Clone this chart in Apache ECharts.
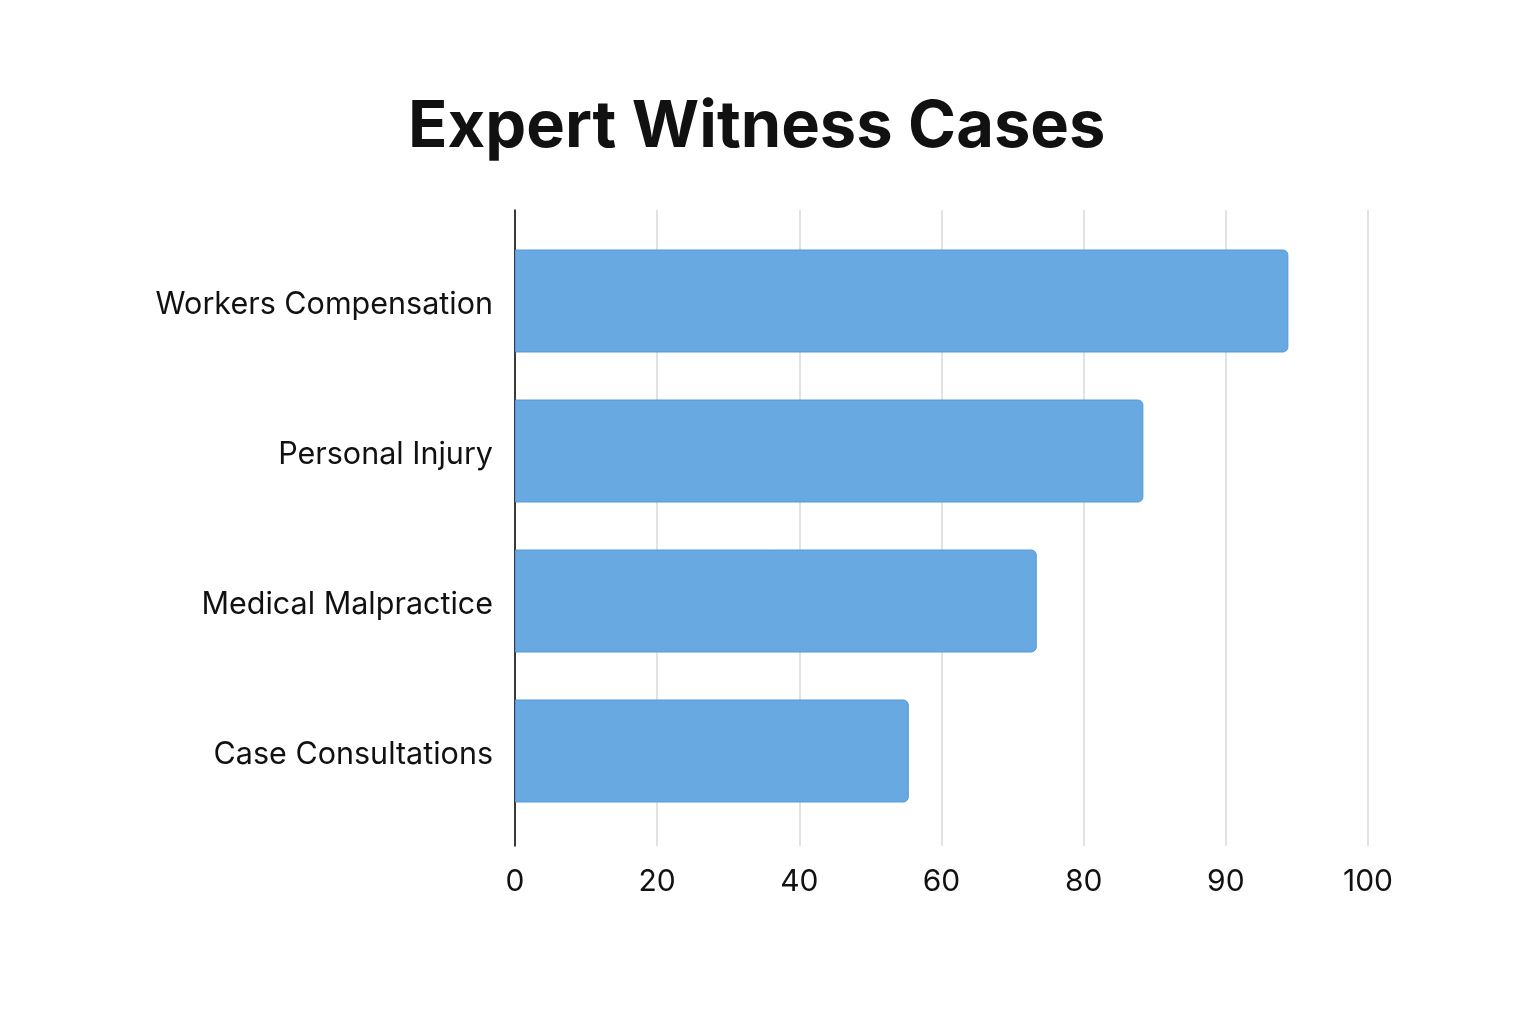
<!DOCTYPE html>
<html>
<head>
<meta charset="utf-8">
<title>Expert Witness Cases</title>
<script src="https://cdn.jsdelivr.net/npm/echarts@6/dist/echarts.min.js"></script>
<style>
  html, body { margin: 0; padding: 0; background: #ffffff; }
  #chart { width: 1536px; height: 1024px; }
</style>
</head>
<body>
<div id="chart"></div>
<script>
// Data
const categories = ['Workers Compensation', 'Personal Injury', 'Medical Malpractice', 'Case Consultations'];
const caseValues = [94.4, 84.2, 73.4, 55.4];
// The x axis is drawn with evenly spaced ticks, labelled unevenly
const tickLabels = [0, 20, 40, 60, 80, 90, 100];

// Place a value on the evenly spaced tick axis (piecewise between labelled ticks)
function toTickSpace(v) {
    for (let i = 1; i < tickLabels.length; i++) {
        if (v <= tickLabels[i]) {
            const lo = tickLabels[i - 1];
            const hi = tickLabels[i];
            return (i - 1) + (v - lo) / (hi - lo);
        }
    }
    return tickLabels.length - 1;
}

const chart = echarts.init(document.getElementById('chart'));
const FONT = 'Inter, "Noto Sans", sans-serif';

const option = {
    backgroundColor: '#ffffff',
    animation: false,
    title: {
        text: 'Expert Witness Cases',
        left: 403,
        top: 90,
        textStyle: {
            fontFamily: FONT,
            fontSize: 65,
            fontWeight: 'bold',
            color: '#111111'
        }
    },
    grid: [
        // grid 0: axis, gridlines, tick labels
        { left: 515, right: 168, top: 210, bottom: 178 },
        // grid 1: bars and category labels
        { left: 515, right: 168, top: 226, bottom: 198 }
    ],
    xAxis: [
        {
            gridIndex: 0,
            type: 'value',
            min: 0,
            max: tickLabels.length - 1,
            interval: 1,
            axisLine: { show: false },
            axisTick: { show: false },
            splitLine: { show: true, lineStyle: { color: '#d9d9d9', width: 1.5 } },
            axisLabel: {
                margin: 21,
                fontFamily: FONT,
                fontSize: 30,
                color: '#111111',
                formatter: (value) => String(tickLabels[Math.round(value)])
            }
        },
        {
            gridIndex: 1,
            type: 'value',
            min: 0,
            max: tickLabels.length - 1,
            show: false
        }
    ],
    yAxis: [
        {
            gridIndex: 0,
            type: 'value',
            min: 0,
            max: 1,
            axisLine: { show: true, lineStyle: { color: '#000000', width: 1.5 } },
            axisTick: { show: false },
            axisLabel: { show: false },
            splitLine: { show: false }
        },
        {
            gridIndex: 1,
            type: 'category',
            data: categories,
            inverse: true,
            axisLine: { show: false },
            axisTick: { show: false },
            splitLine: { show: false },
            axisLabel: {
                margin: 22,
                formatter: (value) => '{cat|' + value + '}',
                rich: {
                    cat: {
                        fontFamily: FONT,
                        fontSize: 30.5,
                        color: '#111111',
                        padding: [8, 0, 0, 0]
                    }
                }
            }
        }
    ],
    series: [
        {
            type: 'bar',
            xAxisIndex: 1,
            yAxisIndex: 1,
            barWidth: 103,
            data: caseValues.map(toTickSpace),
            itemStyle: {
                color: '#67a9e0',
                borderColor: '#559bdb',
                borderWidth: 1,
                borderRadius: [0, 5, 5, 0]
            }
        }
    ]
};

chart.setOption(option);
window.addEventListener('resize', () => chart.resize());
</script>
</body>
</html>
